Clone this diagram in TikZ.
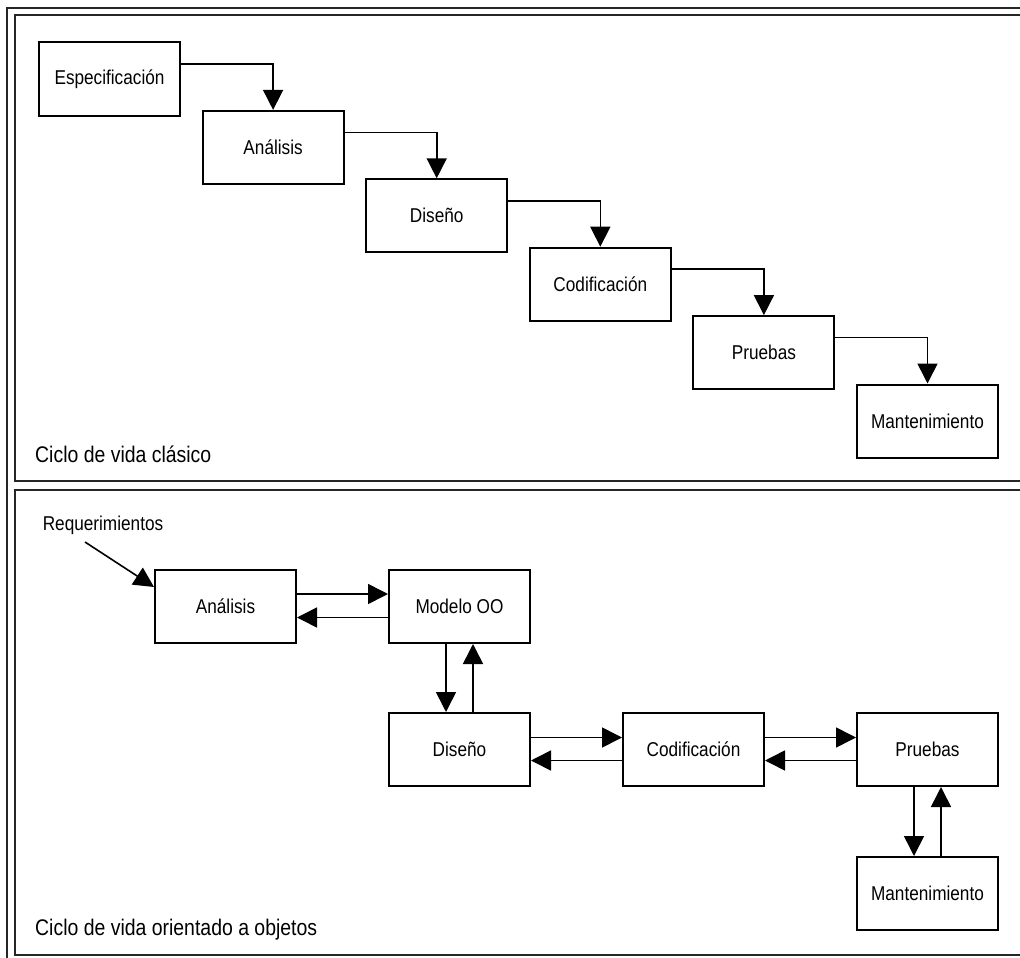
\documentclass[tikz,border=0pt]{standalone}
\usepackage{fontspec}
\setmainfont{Liberation Sans}[FakeStretch=0.86]
\usetikzlibrary{arrows.meta, calc}
\tikzstyle{phase} = [rectangle, 
minimum width=141pt, 
minimum height=73pt, 
text centered, 
draw=black, 
line width=2pt,
font=\fontsize{20}{24}\selectfont]
\tikzstyle{arrow} = [line width=1.6pt,-{Triangle[width=20pt,length=20pt]}]
\tikzstyle{frame} = [line width=1.5pt, draw=black!85]
\tikzstyle{caption} = [anchor=base west, 
inner sep=0pt, 
font=\fontsize{22.6}{27}\selectfont]

\begin{document}
\begin{tikzpicture}[x=1pt, y=-1pt, node distance=163.6pt]
\clip (0,0) rectangle (1020,958);
\fill [white] (0,0) rectangle (1020,958);

% frames
\draw [frame] (7,8) rectangle (1040,980);
\draw [frame] (15,15) rectangle (1040,481);
\draw [frame] (15,490) rectangle (1040,955);

% classic life cycle
\node (esp) [phase] at (109.5,79) {Especificación};
\node (ana) [phase, right of=esp, yshift=-68.4pt] {Análisis};
\node (dis) [phase, right of=ana, yshift=-68.4pt] {Diseño};
\node (cod) [phase, right of=dis, yshift=-68.4pt] {Codificación};
\node (pru) [phase, right of=cod, yshift=-68.4pt] {Pruebas};
\node (man) [phase, right of=pru, yshift=-68.4pt] {Mantenimiento};

\draw [arrow] ($(esp.east)+(0,-15)$) -| (ana.north);
\draw [arrow] ($(ana.east)+(0,-15)$) -| (dis.north);
\draw [arrow] ($(dis.east)+(0,-15)$) -| (cod.north);
\draw [arrow] ($(cod.east)+(0,-15)$) -| (pru.north);
\draw [arrow] ($(pru.east)+(0,-15)$) -| (man.north);

\node (cap1) [caption] at (35,462) {Ciclo de vida clásico};

% object oriented life cycle
\node (req) [font=\fontsize{20}{24}\selectfont] at (103,525) {Requerimientos};
\coordinate (reqtail) at (85,542);
\node (ana2) [phase] at (225.5,606.5) {Análisis};
\node (mod) [phase, right of=ana2, node distance=234pt] {Modelo OO};
\node (dis2) [phase, below of=mod, node distance=143pt] {Diseño};
\node (cod2) [phase, right of=dis2, node distance=234pt] {Codificación};
\node (pru2) [phase, right of=cod2, node distance=234pt] {Pruebas};
\node (man2) [phase, below of=pru2, node distance=144pt] {Mantenimiento};

\draw [arrow] (reqtail) -- ($(ana2.north west)+(0,18)$);
\draw [arrow] ($(ana2.east)+(0,-12.5)$) -- ($(mod.west)+(0,-12.5)$);
\draw [arrow] ($(mod.west)+(0,11)$) -- ($(ana2.east)+(0,11)$);
\draw [arrow] ($(mod.south)+(-13.5,0)$) -- ($(dis2.north)+(-13.5,0)$);
\draw [arrow] ($(dis2.north)+(13.5,0)$) -- ($(mod.south)+(13.5,0)$);
\draw [arrow] ($(dis2.east)+(0,-12)$) -- ($(cod2.west)+(0,-12)$);
\draw [arrow] ($(cod2.west)+(0,11)$) -- ($(dis2.east)+(0,11)$);
\draw [arrow] ($(cod2.east)+(0,-12)$) -- ($(pru2.west)+(0,-12)$);
\draw [arrow] ($(pru2.west)+(0,11)$) -- ($(cod2.east)+(0,11)$);
\draw [arrow] ($(pru2.south)+(-13.5,0)$) -- ($(man2.north)+(-13.5,0)$);
\draw [arrow] ($(man2.north)+(13.5,0)$) -- ($(pru2.south)+(13.5,0)$);

\node (cap2) [caption] at (35,935) {Ciclo de vida orientado a objetos};

\end{tikzpicture}
\end{document}
